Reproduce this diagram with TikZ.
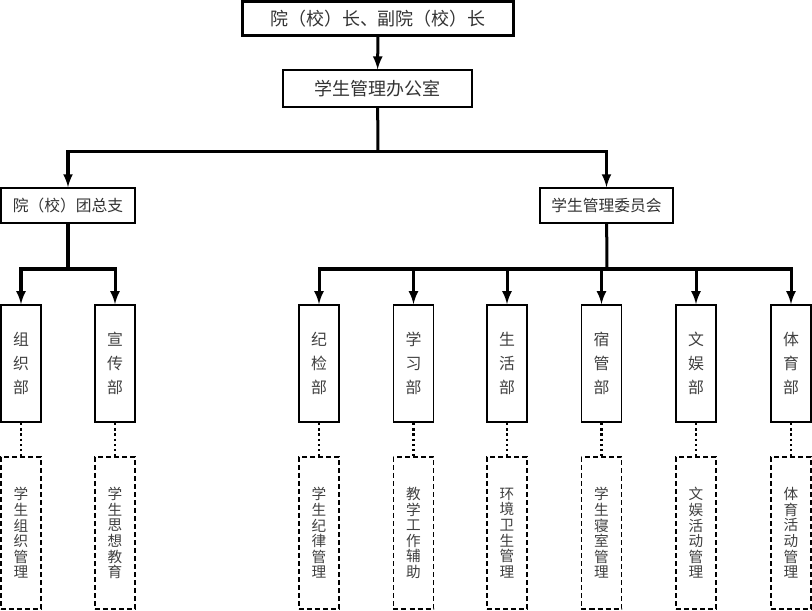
\documentclass[tikz,border=0pt]{standalone}
\usepackage{fontspec}
\setmainfont{Noto Sans CJK SC}
\usetikzlibrary{arrows}
\tikzset{>=latex}
\tikzset{
  box/.style={draw, line width=0.04cm, inner sep=0pt, text=black!80,
    font=\fontsize{12.8}{14}\selectfont},
  dept/.style={draw, line width=0.045cm, inner sep=0pt, minimum width=1cm,
    minimum height=2.925cm, text=black!75, align=center,
    font=\fontsize{11.3}{17}\selectfont},
  task/.style={dept, dash pattern=on 0.125cm off 0.075cm, line width=0.04cm,
    minimum height=3.8cm, font=\fontsize{10.4}{11.1}\selectfont},
  link/.style={line width=0.075cm},
  dots/.style={line width=0.06cm, dotted}
}
\begin{document}
\begin{tikzpicture}[x=0.025cm,y=-0.025cm]
  \useasboundingbox (0,0) rectangle (812,611);
  % top levels
  \node[box, line width=0.075cm, minimum width=6.75cm, minimum height=0.85cm] (head) at (378,18.5) {院（校）长、副院（校）长};
  \node[box, line width=0.03cm, minimum width=4.725cm, minimum height=0.925cm] (office) at (377.5,88.5) {学生管理办公室};
  \node[box, minimum width=3.35cm, minimum height=0.875cm, font=\fontsize{11.2}{13}\selectfont] (tuan) at (68,205.5) {院（校）团总支};
  \node[box, minimum width=3.325cm, minimum height=0.875cm, font=\fontsize{11.2}{13}\selectfont] (wyh) at (606.5,205.5) {学生管理委员会};
  \coordinate (busA) at (378,152);
  \coordinate (busB) at (68,269);
  \coordinate (busC) at (607,269);
  \draw[link,->] (head) -- (office);
  \draw[link] (office) -- (busA);
  \draw[link,->] (busA) -| (tuan);
  \draw[link,->] (busA) -| (wyh);
  \draw[link] (tuan) -- (busB);
  \draw[link] (wyh) -- (busC);
  % departments under tuan
  \node[dept] (zuzhi) at (21,363.5) {组\\织\\部};
  \node[dept] (xuanchuan) at (115,363.5) {宣\\传\\部};
  \node[task] (zuzhiT) at (21,533) {学\\生\\组\\织\\管\\理};
  \node[task] (xuanchuanT) at (115,533) {学\\生\\思\\想\\教\\育};
  \draw[link,->] (busB) -| (zuzhi);
  \draw[link,->] (busB) -| (xuanchuan);
  \draw[dots] (zuzhi) -- (zuzhiT);
  \draw[dots] (xuanchuan) -- (xuanchuanT);
  % departments under wyh
  \foreach \n/\x/\d/\t in {jijian/319/{纪\\检\\部}/{学\\生\\纪\\律\\管\\理},
      xuexi/413.5/{学\\习\\部}/{教\\学\\工\\作\\辅\\助},
      shenghuo/507/{生\\活\\部}/{环\\境\\卫\\生\\管\\理},
      sushe/601.5/{宿\\管\\部}/{学\\生\\寝\\室\\管\\理},
      wenyu/696/{文\\娱\\部}/{文\\娱\\活\\动\\管\\理},
      tiyu/791/{体\\育\\部}/{体\\育\\活\\动\\管\\理}}{
    \node[dept] (\n) at (\x,363.5) {\d};
    \node[task] (\n T) at (\x,533) {\t};
    \draw[link,->] (busC) -| (\n);
    \draw[dots] (\n) -- (\n T);
  }
\end{tikzpicture}
\end{document}
